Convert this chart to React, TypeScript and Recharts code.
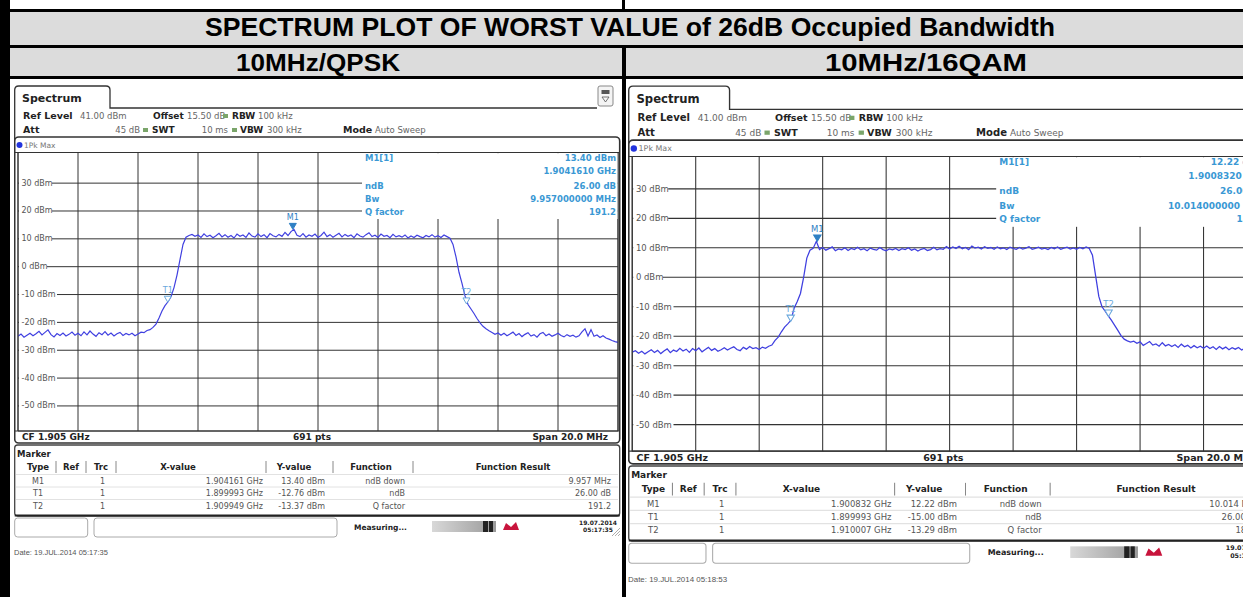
import React from 'react';
import { LineChart, Line, XAxis, YAxis, CartesianGrid, ReferenceDot } from 'recharts';

// ---------- data ----------
const FREQ_START_GHZ = 1.895;
const FREQ_STEP_GHZ = 0.0001;
const X_DOMAIN_GHZ = [1.895, 1.915];
const X_GRID_GHZ = [1.895, 1.897, 1.899, 1.901, 1.903, 1.905, 1.907, 1.909, 1.911, 1.913, 1.915];
const Y_DOMAIN_DBM = [-59, 41];
const Y_TICKS_DBM = [30, 20, 10, 0, -10, -20, -30, -40, -50];

const QPSK_TRACE_DBM = [
  -25.0, -24.2, -25.3, -24.6, -23.9, -24.8, -24.1, -23.2, -24.5, -23.6,
  -22.7, -24.4, -25.2, -24.0, -24.7, -23.8, -24.9, -24.3, -23.5, -24.6,
  -23.9, -24.8, -23.4, -24.5, -23.1, -24.2, -25.0, -23.7, -24.4, -23.3,
  -24.6, -23.8, -24.9, -24.1, -23.6, -24.7, -24.0, -24.5, -23.9, -24.8,
  -24.2, -23.5, -23.7, -22.9, -22.6, -21.8, -20.6, -18.4, -15.9, -14.0,
  -12.6, -10.8, -7.5, -3.0, 2.5, 8.0, 10.6, 11.2, 11.6, 10.9,
  11.4, 10.5, 11.8, 10.8, 11.3, 10.4, 11.1, 12.0, 10.7, 11.5,
  10.6, 11.2, 10.3, 11.7, 10.9, 11.4, 10.5, 12.1, 11.0, 10.6,
  11.8, 10.8, 11.5, 10.4, 11.9, 11.1, 10.7, 11.6, 10.9, 12.3,
  11.2, 12.6, 13.4, 11.3, 10.8, 11.9, 10.6, 11.4, 10.9, 11.7,
  10.5, 11.2, 12.4, 10.8, 11.5, 10.6, 11.3, 12.0, 10.7, 11.6,
  10.9, 11.4, 10.4, 11.8, 11.0, 10.6, 11.5, 12.2, 10.8, 11.3,
  10.5, 11.7, 10.9, 11.2, 10.4, 11.6, 10.7, 11.1, 10.6, 11.4,
  10.3, 11.0, 10.5, 11.3, 10.8, 10.4, 11.2, 10.7, 11.5, 10.6,
  11.1, 10.5, 11.4, 10.8, 10.2, 8.0, 3.5, -2.0, -6.0, -10.5,
  -13.6, -15.2, -16.8, -18.6, -20.2, -21.4, -22.3, -23.0, -23.6, -24.3,
  -23.8, -24.6, -23.9, -24.8, -24.2, -23.5, -24.7, -24.0, -25.1, -24.3,
  -23.7, -24.9, -24.4, -25.3, -24.1, -23.6, -24.8, -24.2, -25.0, -24.5,
  -23.9, -24.7, -25.2, -24.4, -25.0, -24.6, -25.3, -24.8, -23.4, -22.3,
  -24.9, -22.6, -25.0, -24.5, -25.4, -24.8, -25.6, -26.0, -26.5, -26.9,
  -27.2,
];

const QAM16_TRACE_DBM = [
  -25.4, -24.9, -25.8, -25.1, -26.0, -25.3, -24.6, -25.5, -24.8, -25.9,
  -25.0, -24.3, -25.6, -24.7, -25.2, -24.1, -25.0, -24.4, -25.5, -24.2,
  -24.9, -24.0, -25.3, -24.5, -23.8, -24.8, -24.2, -25.1, -24.6, -23.9,
  -24.7, -24.1, -23.6, -24.5, -24.9, -23.8, -24.4, -23.5, -24.2, -23.9,
  -24.5, -23.7, -24.1, -23.4, -23.0, -21.4, -20.3, -18.5, -16.9, -15.8,
  -14.6, -10.5, -8.2, -5.5, 0.0, 6.5, 9.2, 9.8, 12.2, 9.4,
  10.1, 9.2, 9.7, 10.3, 9.0, 9.6, 9.3, 10.0, 9.1, 9.8,
  9.4, 10.2, 9.3, 9.7, 9.0, 9.9, 9.5, 9.2, 10.1, 9.4,
  9.0, 9.6, 9.3, 9.8, 9.1, 9.7, 9.4, 10.0, 9.2, 9.6,
  8.9, 9.5, 9.8, 9.1, 9.4, 10.2, 9.3, 9.7, 9.5, 10.4,
  9.6, 10.3, 9.8, 10.5, 9.7, 10.1, 9.4, 10.6, 9.9, 10.2,
  9.6, 10.4, 9.8, 10.1, 9.5, 10.3, 9.7, 10.0, 9.4, 10.2,
  9.8, 9.5, 10.1, 9.6, 9.9, 10.4, 9.5, 9.8, 10.2, 9.6,
  9.9, 9.4, 10.1, 9.7, 10.3, 9.5, 9.9, 10.2, 9.6, 10.0,
  9.5, 10.1, 9.7, 10.3, 9.8, 7.5, 0.5, -6.5, -10.0, -11.5,
  -13.1, -14.6, -16.3, -18.0, -19.8, -21.0, -21.6, -22.0, -21.7, -22.4,
  -21.9, -23.1, -22.5, -21.8, -23.0, -22.6, -23.4, -22.2, -23.3, -22.8,
  -23.5, -22.9, -23.8, -22.7, -23.6, -23.1, -24.0, -23.2, -23.9, -23.4,
  -24.1, -23.3, -24.2, -23.6, -24.5, -23.5, -24.3, -23.7, -24.6, -23.9,
  -24.4, -23.8, -24.7, -24.0, -24.5, -24.2, -24.8, -24.3, -24.6, -24.4,
  -24.9,
];

type Marker = { name: string; ghz: number; dbm: number; fn: string; result: string };

const QPSK_MARKERS: Marker[] = [
  { name: 'M1', ghz: 1.904161, dbm: 13.40, fn: 'ndB down', result: '9.957 MHz' },
  { name: 'T1', ghz: 1.899993, dbm: -12.76, fn: 'ndB', result: '26.00 dB' },
  { name: 'T2', ghz: 1.909949, dbm: -13.37, fn: 'Q factor', result: '191.2' },
];
const QAM16_MARKERS: Marker[] = [
  { name: 'M1', ghz: 1.900832, dbm: 12.22, fn: 'ndB down', result: '10.014 MHz' },
  { name: 'T1', ghz: 1.899993, dbm: -15.00, fn: 'ndB', result: '26.00 dB' },
  { name: 'T2', ghz: 1.910007, dbm: -13.29, fn: 'Q factor', result: '189.9' },
];

const QPSK_INFO: [string, string][] = [
  ['M1[1]', '13.40 dBm'], ['', '1.9041610 GHz'], ['ndB', '26.00 dB'], ['Bw', '9.957000000 MHz'], ['Q factor', '191.2'],
];
const QAM16_INFO: [string, string][] = [
  ['M1[1]', '12.22 dBm'], ['', '1.9008320 GHz'], ['ndB', '26.00 dB'], ['Bw', '10.014000000 MHz'], ['Q factor', '189.9'],
];

const TITLE = 'SPECTRUM PLOT OF WORST VALUE of 26dB Occupied Bandwidth';
const SUBTITLES = ['10MHz/QPSK', '10MHz/16QAM'];
const QPSK_STAMP: [string, string] = ['19.07.2014', '05:17:35'];
const QAM16_STAMP: [string, string] = ['19.07.2014', '05:18:53'];
const QPSK_DATE = 'Date: 19.JUL.2014  05:17:35';
const QAM16_DATE = 'Date: 19.JUL.2014  05:18:53';

// ---------- styling ----------
const SF = 'DejaVu Sans, Verdana, sans-serif';
const PANEL_W = 608;
const PANEL_H = 480;
const CHART_TOP = 64;
const PLOT_LEFT = 4;
const TRACE = '#4040e0';
const CYAN = '#3a98d4';

const YTick = (p: any) => {
  const { y, payload } = p;
  const label = `${payload.value} dBm`;
  const x0 = PLOT_LEFT + 1;
  const w = label.length * 5 + 3;
  return (
    <g>
      <rect x={x0} y={y - 5} width={w} height={10} fill="#fff" />
      <text x={x0 + 2.5} y={y} dominantBaseline="central" fontSize={8} fill="#555" fontFamily={SF}>
        {label}
      </text>
    </g>
  );
};

const NoTick = () => <g />;

const markerShape = (name: string) => (p: any) => {
  const { cx, cy } = p;
  const filled = name === 'M1';
  const col = filled ? '#2f80c4' : '#6aa8dc';
  return (
    <g>
      <path
        d={`M${cx},${cy} L${cx - 3.5},${cy - 6} L${cx + 3.5},${cy - 6} Z`}
        fill={filled ? col : '#fff'}
        stroke={col}
        strokeWidth={1}
      />
      <text x={cx} y={cy - 9} textAnchor="middle" fontSize={8} fill={col} fontFamily={SF}>
        {name}
      </text>
    </g>
  );
};

function Panel(props: {
  trace: number[];
  markers: Marker[];
  info: [string, string][];
  stamp: [string, string];
  date: string;
  gid: string;
}) {
  const { trace, markers, info, stamp, date, gid } = props;
  const data = trace.map((v, i) => ({ f: FREQ_START_GHZ + i * FREQ_STEP_GHZ, v }));
  const bold = { fontFamily: SF, fontWeight: 700, fill: '#222' } as any;
  const norm = { fontFamily: SF, fill: '#666' } as any;
  const sq = (x: number, y: number) => <rect x={x} y={y} width={5} height={4} fill="#7aa56a" />;
  const sepX = [42, 72, 102, 252, 319, 399];
  const rowY = [397, 409.5, 422];
  const infoY = [74, 87, 101.5, 115, 128];
  return (
    <div style={{ position: 'relative', width: PANEL_W, height: PANEL_H }}>
      <svg width={PANEL_W} height={PANEL_H} style={{ position: 'absolute', left: 0, top: 0 }}>
        <defs>
          <linearGradient id={`pg${gid}`} x1="0" y1="0" x2="1" y2="0">
            <stop offset="0" stopColor="#d8d8d8" />
            <stop offset="1" stopColor="#9a9a9a" />
          </linearGradient>
        </defs>
        {/* tab */}
        <path d="M0.7,56 L0.7,6 Q0.7,2 4.7,2 L92,2 Q96,2 96,6 L96,24 L583,24" stroke="#333" strokeWidth={1.3} fill="none" />
        <text x={8} y={18} fontSize={11} {...bold}>Spectrum</text>
        {/* icon */}
        <rect x={584} y={2} width={15} height={20} rx={2} fill="#f4f4f4" stroke="#888" strokeWidth={1} />
        <rect x={587.5} y={6} width={8} height={4} fill="#555" />
        <path d="M588,13 L595,13 L591.5,18 Z" fill="none" stroke="#555" strokeWidth={0.8} />
        {/* header rows */}
        <text x={9} y={35} fontSize={9.5} {...bold}>Ref Level</text>
        <text x={66} y={35} fontSize={8.5} {...norm}>41.00 dBm</text>
        <text x={139} y={35} fontSize={9} {...bold}>Offset</text>
        <text x={173} y={35} fontSize={8.5} {...norm}>15.50 dB</text>
        {sq(209, 30)}
        <text x={218} y={35} fontSize={9} {...bold}>RBW</text>
        <text x={244} y={35} fontSize={8.5} {...norm}>100 kHz</text>
        <text x={9} y={49} fontSize={9.5} {...bold}>Att</text>
        <text x={126} y={49} fontSize={8.5} textAnchor="end" {...norm}>45 dB</text>
        {sq(129, 44)}
        <text x={138} y={49} fontSize={9} {...bold}>SWT</text>
        <text x={214} y={49} fontSize={8.5} textAnchor="end" {...norm}>10 ms</text>
        {sq(218, 44)}
        <text x={226} y={49} fontSize={9} {...bold}>VBW</text>
        <text x={253} y={49} fontSize={8.5} {...norm}>300 kHz</text>
        <text x={329} y={49} fontSize={9.5} {...bold}>Mode</text>
        <text x={361} y={49} fontSize={8.5} {...norm}>Auto Sweep</text>
        {/* plot frame */}
        <rect x={0.7} y={53} width={605} height={306} rx={4} fill="#fff" stroke="#333" strokeWidth={1.6} />
        <circle cx={5.5} cy={61} r={3} fill="#2233dd" />
        <text x={10} y={61} dominantBaseline="central" fontSize={7.5} fill="#777" fontFamily={SF}>1Pk Max</text>
        <line x1={0.7} y1={68.5} x2={605.7} y2={68.5} stroke="#333" strokeWidth={1} />
        <line x1={0.7} y1={347} x2={605.7} y2={347} stroke="#333" strokeWidth={1} />
        <text x={8} y={356} fontSize={9} {...bold}>CF 1.905 GHz</text>
        <text x={298} y={356} fontSize={9} textAnchor="middle" {...bold}>691 pts</text>
        <text x={594} y={356} fontSize={9} textAnchor="end" {...bold}>Span 20.0 MHz</text>
        {/* marker table */}
        <rect x={0.7} y={361} width={605} height={71} rx={3} fill="#fff" stroke="#444" strokeWidth={1.3} />
        <line x1={0.7} y1={431.5} x2={605.7} y2={431.5} stroke="#222" strokeWidth={2} />
        <text x={3} y={370} dominantBaseline="central" fontSize={8.5} {...bold}>Marker</text>
        {sepX.map((x) => (
          <line key={x} x1={x} y1={377} x2={x} y2={389} stroke="#888" strokeWidth={1} />
        ))}
        {[
          ['Type', 24], ['Ref', 57], ['Trc', 87], ['X-value', 164], ['Y-value', 280], ['Function', 357], ['Function Result', 499],
        ].map(([t, x]) => (
          <text key={t as string} x={x as number} y={383} textAnchor="middle" dominantBaseline="central" fontSize={8.5} {...bold}>
            {t}
          </text>
        ))}
        {[390.5, 403, 415.5].map((y) => (
          <line key={y} x1={2} y1={y} x2={604} y2={y} stroke="#e2e2e2" strokeWidth={1} />
        ))}
        {markers.map((m, i) => (
          <g key={m.name} fontSize={8} fill="#555" fontFamily={SF}>
            <text x={24} y={rowY[i]} textAnchor="middle" dominantBaseline="central">{m.name}</text>
            <text x={91} y={rowY[i]} textAnchor="end" dominantBaseline="central">1</text>
            <text x={249} y={rowY[i]} textAnchor="end" dominantBaseline="central">{`${m.ghz.toFixed(6)} GHz`}</text>
            <text x={311} y={rowY[i]} textAnchor="end" dominantBaseline="central">{`${m.dbm.toFixed(2)} dBm`}</text>
            <text x={391} y={rowY[i]} textAnchor="end" dominantBaseline="central">{m.fn}</text>
            <text x={597} y={rowY[i]} textAnchor="end" dominantBaseline="central">{m.result}</text>
          </g>
        ))}
        {/* status bar */}
        <rect x={0.7} y={434} width={73} height={19} rx={3} fill="#fff" stroke="#aaa" />
        <rect x={80} y={434} width={243} height={19} rx={3} fill="#fff" stroke="#aaa" />
        <text x={340} y={443} dominantBaseline="central" fontSize={7.5} {...bold}>Measuring...</text>
        <rect x={418} y={437} width={64} height={11} fill={`url(#pg${gid})`} />
        <rect x={469} y={437} width={5} height={11} fill="#222" />
        <rect x={475} y={437} width={4} height={11} fill="#222" />
        <path d="M489,446 L492,439 L497,443 L502,438 L505,446 Z" fill="#c8143c" />
        <text x={584} y={438} textAnchor="middle" dominantBaseline="central" fontSize={6} {...bold}>{stamp[0]}</text>
        <text x={584} y={445.5} textAnchor="middle" dominantBaseline="central" fontSize={6} {...bold}>{stamp[1]}</text>
        {[0, 3, 6].map((d) => (
          <line key={d} x1={598 + d} y1={452} x2={606} y2={444 + d} stroke="#999" strokeWidth={0.8} />
        ))}
        <text x={0} y={468} dominantBaseline="central" fontSize={7.5} fill="#555" fontFamily="Liberation Sans, Arial, sans-serif">
          {date}
        </text>
      </svg>
      <div style={{ position: 'absolute', left: 0, top: CHART_TOP }}>
        <LineChart width={608} height={287} data={data} margin={{ top: 4.5, right: 4, bottom: 3, left: 3 }}>
          <CartesianGrid stroke="#333" strokeWidth={1} />
          <XAxis
            dataKey="f"
            type="number"
            domain={X_DOMAIN_GHZ}
            ticks={X_GRID_GHZ}
            interval={0}
            allowDataOverflow
            height={1}
            tick={NoTick}
            axisLine={false}
            tickLine={false}
          />
          <YAxis
            type="number"
            domain={Y_DOMAIN_DBM}
            ticks={Y_TICKS_DBM}
            allowDataOverflow
            interval={0}
            width={1}
            axisLine={false}
            tickLine={false}
            tick={(p: any) => <YTick {...p} />}
          />
          <Line type="linear" dataKey="v" stroke={TRACE} strokeWidth={1.2} dot={false} isAnimationActive={false} />
          {markers.map((m) => (
            <ReferenceDot key={m.name} x={m.ghz} y={m.dbm} r={0} ifOverflow="visible" shape={markerShape(m.name)} />
          ))}
        </LineChart>
      </div>
      <svg width={PANEL_W} height={PANEL_H} style={{ position: 'absolute', left: 0, top: 0, pointerEvents: 'none' }}>
        <line x1={4} y1={68.5} x2={4} y2={347} stroke="#333" strokeWidth={1} />
        <line x1={604} y1={68.5} x2={604} y2={347} stroke="#333" strokeWidth={1} />
        <rect x={348} y={69.2} width={255.5} height={65.8} fill="#fff" />
        {info.map(([l, r], i) => (
          <g key={i} fontSize={8.5} fontWeight={700} fill={CYAN} fontFamily={SF}>
            <text x={351} y={infoY[i]} dominantBaseline="central">{l}</text>
            <text x={602} y={infoY[i]} textAnchor="end" dominantBaseline="central">{r}</text>
          </g>
        ))}
      </svg>
    </div>
  );
}

export default function App() {
  const hf = 'Liberation Sans, Arial, sans-serif';
  return (
    <div style={{ position: 'absolute', left: 0, top: 0, width: 1243, height: 597, overflow: 'hidden', background: '#fff' }}>
      <svg width={1243} height={597} style={{ position: 'absolute', left: 0, top: 0 }}>
        <rect x={0} y={0} width={1243} height={597} fill="#fff" />
        <rect x={0} y={12} width={1243} height={64} fill="#dcdcdc" />
        <rect x={0} y={9} width={1243} height={3} fill="#000" />
        <rect x={0} y={45} width={1243} height={3} fill="#000" />
        <rect x={0} y={76} width={1243} height={3} fill="#000" />
        <rect x={0} y={0} width={10} height={597} fill="#000" />
        <rect x={622} y={0} width={3} height={9} fill="#000" />
        <rect x={622} y={48} width={4} height={549} fill="#000" />
        <text x={630} y={36} textAnchor="middle" fontSize={25} fontWeight={700} fontFamily={hf} textLength={850} lengthAdjust="spacingAndGlyphs">
          {TITLE}
        </text>
        <text x={318} y={71} textAnchor="middle" fontSize={24} fontWeight={700} fontFamily={hf} textLength={164} lengthAdjust="spacingAndGlyphs">
          {SUBTITLES[0]}
        </text>
        <text x={926} y={71} textAnchor="middle" fontSize={24} fontWeight={700} fontFamily={hf} textLength={202} lengthAdjust="spacingAndGlyphs">
          {SUBTITLES[1]}
        </text>
      </svg>
      <div style={{ position: 'absolute', left: 11, top: 79, width: 611, height: 518, overflow: 'hidden' }}>
        <div style={{ position: 'absolute', left: 3, top: 5 }}>
          <Panel trace={QPSK_TRACE_DBM} markers={QPSK_MARKERS} info={QPSK_INFO} stamp={QPSK_STAMP} date={QPSK_DATE} gid="a" />
        </div>
      </div>
      <div style={{ position: 'absolute', left: 626, top: 79, width: 617, height: 518, overflow: 'hidden' }}>
        <div style={{ position: 'absolute', left: 2.3, top: 5, transform: 'scale(1.058)', transformOrigin: '0 0' }}>
          <Panel trace={QAM16_TRACE_DBM} markers={QAM16_MARKERS} info={QAM16_INFO} stamp={QAM16_STAMP} date={QAM16_DATE} gid="b" />
        </div>
      </div>
    </div>
  );
}
